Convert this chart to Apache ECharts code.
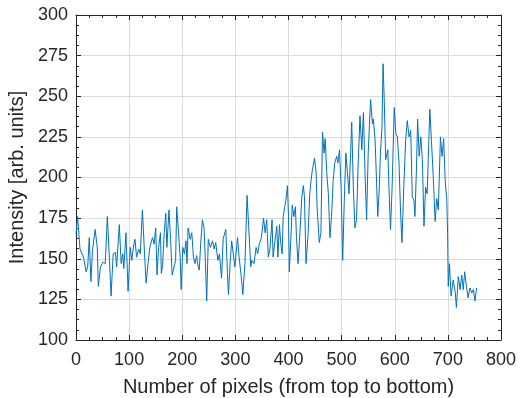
<!DOCTYPE html>
<html>
<head>
<meta charset="utf-8">
<script src="https://cdn.jsdelivr.net/npm/echarts@6/dist/echarts.min.js"></script>
<style>
  html, body { margin: 0; padding: 0; background: #fff; }
  #chart { width: 527px; height: 398px; }
</style>
</head>
<body>
<div id="chart"></div>
<script>
// Intensity profile along the image column (pixel index from top to bottom)
const pixelIndex = [
  0, 3, 7.5, 14, 19, 22, 25, 28, 31, 36, 40, 42, 46, 51, 55, 59, 63, 66, 70, 74,
  76.5, 81.5, 85, 88, 90, 94, 98, 102, 105, 108, 111, 114, 118, 121, 125, 129, 132, 135.5, 139, 144,
  147, 150, 152.5, 155.5, 159, 160.6, 163, 166, 169, 171, 175, 178, 181, 184, 187.5, 189.5, 193, 196, 198, 201,
  204, 207, 209, 211, 215, 218, 221, 224, 227, 230, 232, 235, 238, 241, 243, 246, 249, 253, 257, 260,
  263, 267, 270, 274, 277, 280, 282, 285, 287, 290, 293, 296, 299, 304, 307, 311, 314, 318, 322, 325,
  329, 331, 335, 339, 342, 345, 349, 353, 356, 359, 362, 365, 369, 371, 374.5, 378, 380, 383, 385, 388,
  390, 393, 395, 398, 400, 401.5, 405, 407, 410, 413, 415, 418, 421.5, 425, 428, 430, 433, 437, 440, 442,
  445, 449, 452, 454, 458, 461, 464, 467, 469, 472, 475, 478, 481, 484, 487, 490.6, 493, 496, 499, 502,
  505, 508, 511, 514, 519, 522, 525, 528, 531, 534.5, 538, 541, 544, 547, 550, 554.5, 558, 559.6, 563, 568,
  571, 573, 576, 578, 580, 583, 587, 589, 592, 595, 599, 602, 605, 608, 611, 613.5, 617, 620.5, 623.5, 627,
  630, 633, 636, 638, 641, 643, 646, 649, 652, 655, 658, 661, 666, 669, 672.5, 676, 679, 682, 686, 689,
  692, 695, 698, 699.5, 700.7, 703, 706, 710, 714, 716, 719.6, 723, 726, 729, 731.5, 735, 738, 741.5, 745, 748,
  751, 754
];
const intensity = [
  165, 176, 156, 151, 142, 145, 163, 136, 155, 168, 157, 133, 145, 148, 147, 176, 149, 127, 153, 154,
  145, 171, 147, 153, 144, 166, 130, 157, 149, 157, 162, 151, 156, 153, 180, 153, 135, 147, 157, 163,
  159, 169, 140, 157, 166, 141, 146, 166, 178, 157, 180, 162, 140, 139, 149, 182, 166, 151, 131, 157,
  153, 161, 147, 169, 162, 166, 151, 147, 152, 145, 143, 161, 174, 169, 153, 124, 162, 157, 161, 156,
  160, 149, 153, 138, 162, 166, 168, 141, 128, 147, 161, 153, 145, 163, 151, 139, 128, 147, 189, 170,
  145, 149, 147, 157, 153, 159, 163, 175, 166, 174, 151, 156, 174, 151, 161, 170, 151, 171, 161, 153,
  176, 182, 186, 195, 176, 142, 166, 183, 176, 182, 163, 147, 166, 188, 195, 188, 147, 166, 190, 197,
  205, 212, 203, 180, 160, 166, 228, 215, 224, 203, 190, 163, 176, 198, 209, 213, 209, 217, 194, 149,
  186, 215, 214, 190, 234, 194, 169, 174, 207, 238, 217, 240, 203, 174, 215, 248, 233, 236, 223, 176,
  194, 215, 231, 270, 250, 211, 217, 194, 168, 194, 243, 227, 225, 209, 178, 160, 194, 223, 235, 225,
  229, 188, 186, 176, 207, 236, 213, 225, 211, 170, 194, 190, 242, 223, 200, 173, 187, 180, 225, 213,
  224, 198, 186, 165, 133, 147, 127, 137, 129, 120, 139, 131, 140, 131, 142, 133, 126, 132, 129, 131,
  124, 132
];

const xTicks = { min: 0, max: 800, interval: 100 };
const yTicks = { min: 100, max: 300, interval: 25 };

const textColor = '#262626';
const boxColor = '#262626';
const gridColor = '#dcdcdc';
const fontFamily = 'Liberation Sans, Arial, Helvetica, sans-serif';

const chart = echarts.init(document.getElementById('chart'), null, { renderer: 'canvas' });

const points = pixelIndex.map((x, i) => [x, intensity[i]]);

function boxAxis(base, showLabels) {
  return Object.assign({
    type: 'value',
    axisLine: { show: true, onZero: false, lineStyle: { color: boxColor, width: 1 } },
    axisTick: { show: true, inside: true, length: 5, lineStyle: { color: boxColor, width: 1 } },
    minorTick: { show: true, splitNumber: 4, length: 3, lineStyle: { color: boxColor, width: 1 } },
    splitLine: { show: showLabels, lineStyle: { color: gridColor, width: 1 } },
    minorSplitLine: { show: false },
    axisLabel: { show: showLabels, color: textColor, fontSize: 18, fontFamily: fontFamily }
  }, base);
}

const option = {
  animation: false,
  backgroundColor: '#ffffff',
  grid: {
    left: 76, right: 26, top: 15, bottom: 58,
    containLabel: false,
    outerBoundsMode: 'none'
  },
  xAxis: [
    boxAxis({
      position: 'bottom',
      min: xTicks.min, max: xTicks.max, interval: xTicks.interval,
      name: 'Number of pixels (from top to bottom)',
      nameLocation: 'middle', nameGap: 37,
      nameTextStyle: { color: textColor, fontSize: 20, fontFamily: fontFamily },
      axisLabel: { show: true, color: textColor, fontSize: 18, fontFamily: fontFamily, margin: 11 }
    }, true),
    boxAxis({
      position: 'top',
      min: xTicks.min, max: xTicks.max, interval: xTicks.interval
    }, false)
  ],
  yAxis: [
    boxAxis({
      position: 'left',
      min: yTicks.min, max: yTicks.max, interval: yTicks.interval,
      name: 'Intensity [arb. units]',
      nameLocation: 'middle', nameGap: 41, nameRotate: 90,
      nameTextStyle: { color: textColor, fontSize: 20, fontFamily: fontFamily },
      axisLabel: { show: true, color: textColor, fontSize: 18, fontFamily: fontFamily, margin: 8 }
    }, true),
    boxAxis({
      position: 'right',
      min: yTicks.min, max: yTicks.max, interval: yTicks.interval
    }, false)
  ],
  series: [{
    type: 'line',
    data: points,
    xAxisIndex: 0,
    yAxisIndex: 0,
    showSymbol: false,
    smooth: false,
    lineStyle: { color: '#0072BD', width: 1 },
    itemStyle: { color: '#0072BD' }
  }]
};

chart.setOption(option);
</script>
</body>
</html>
